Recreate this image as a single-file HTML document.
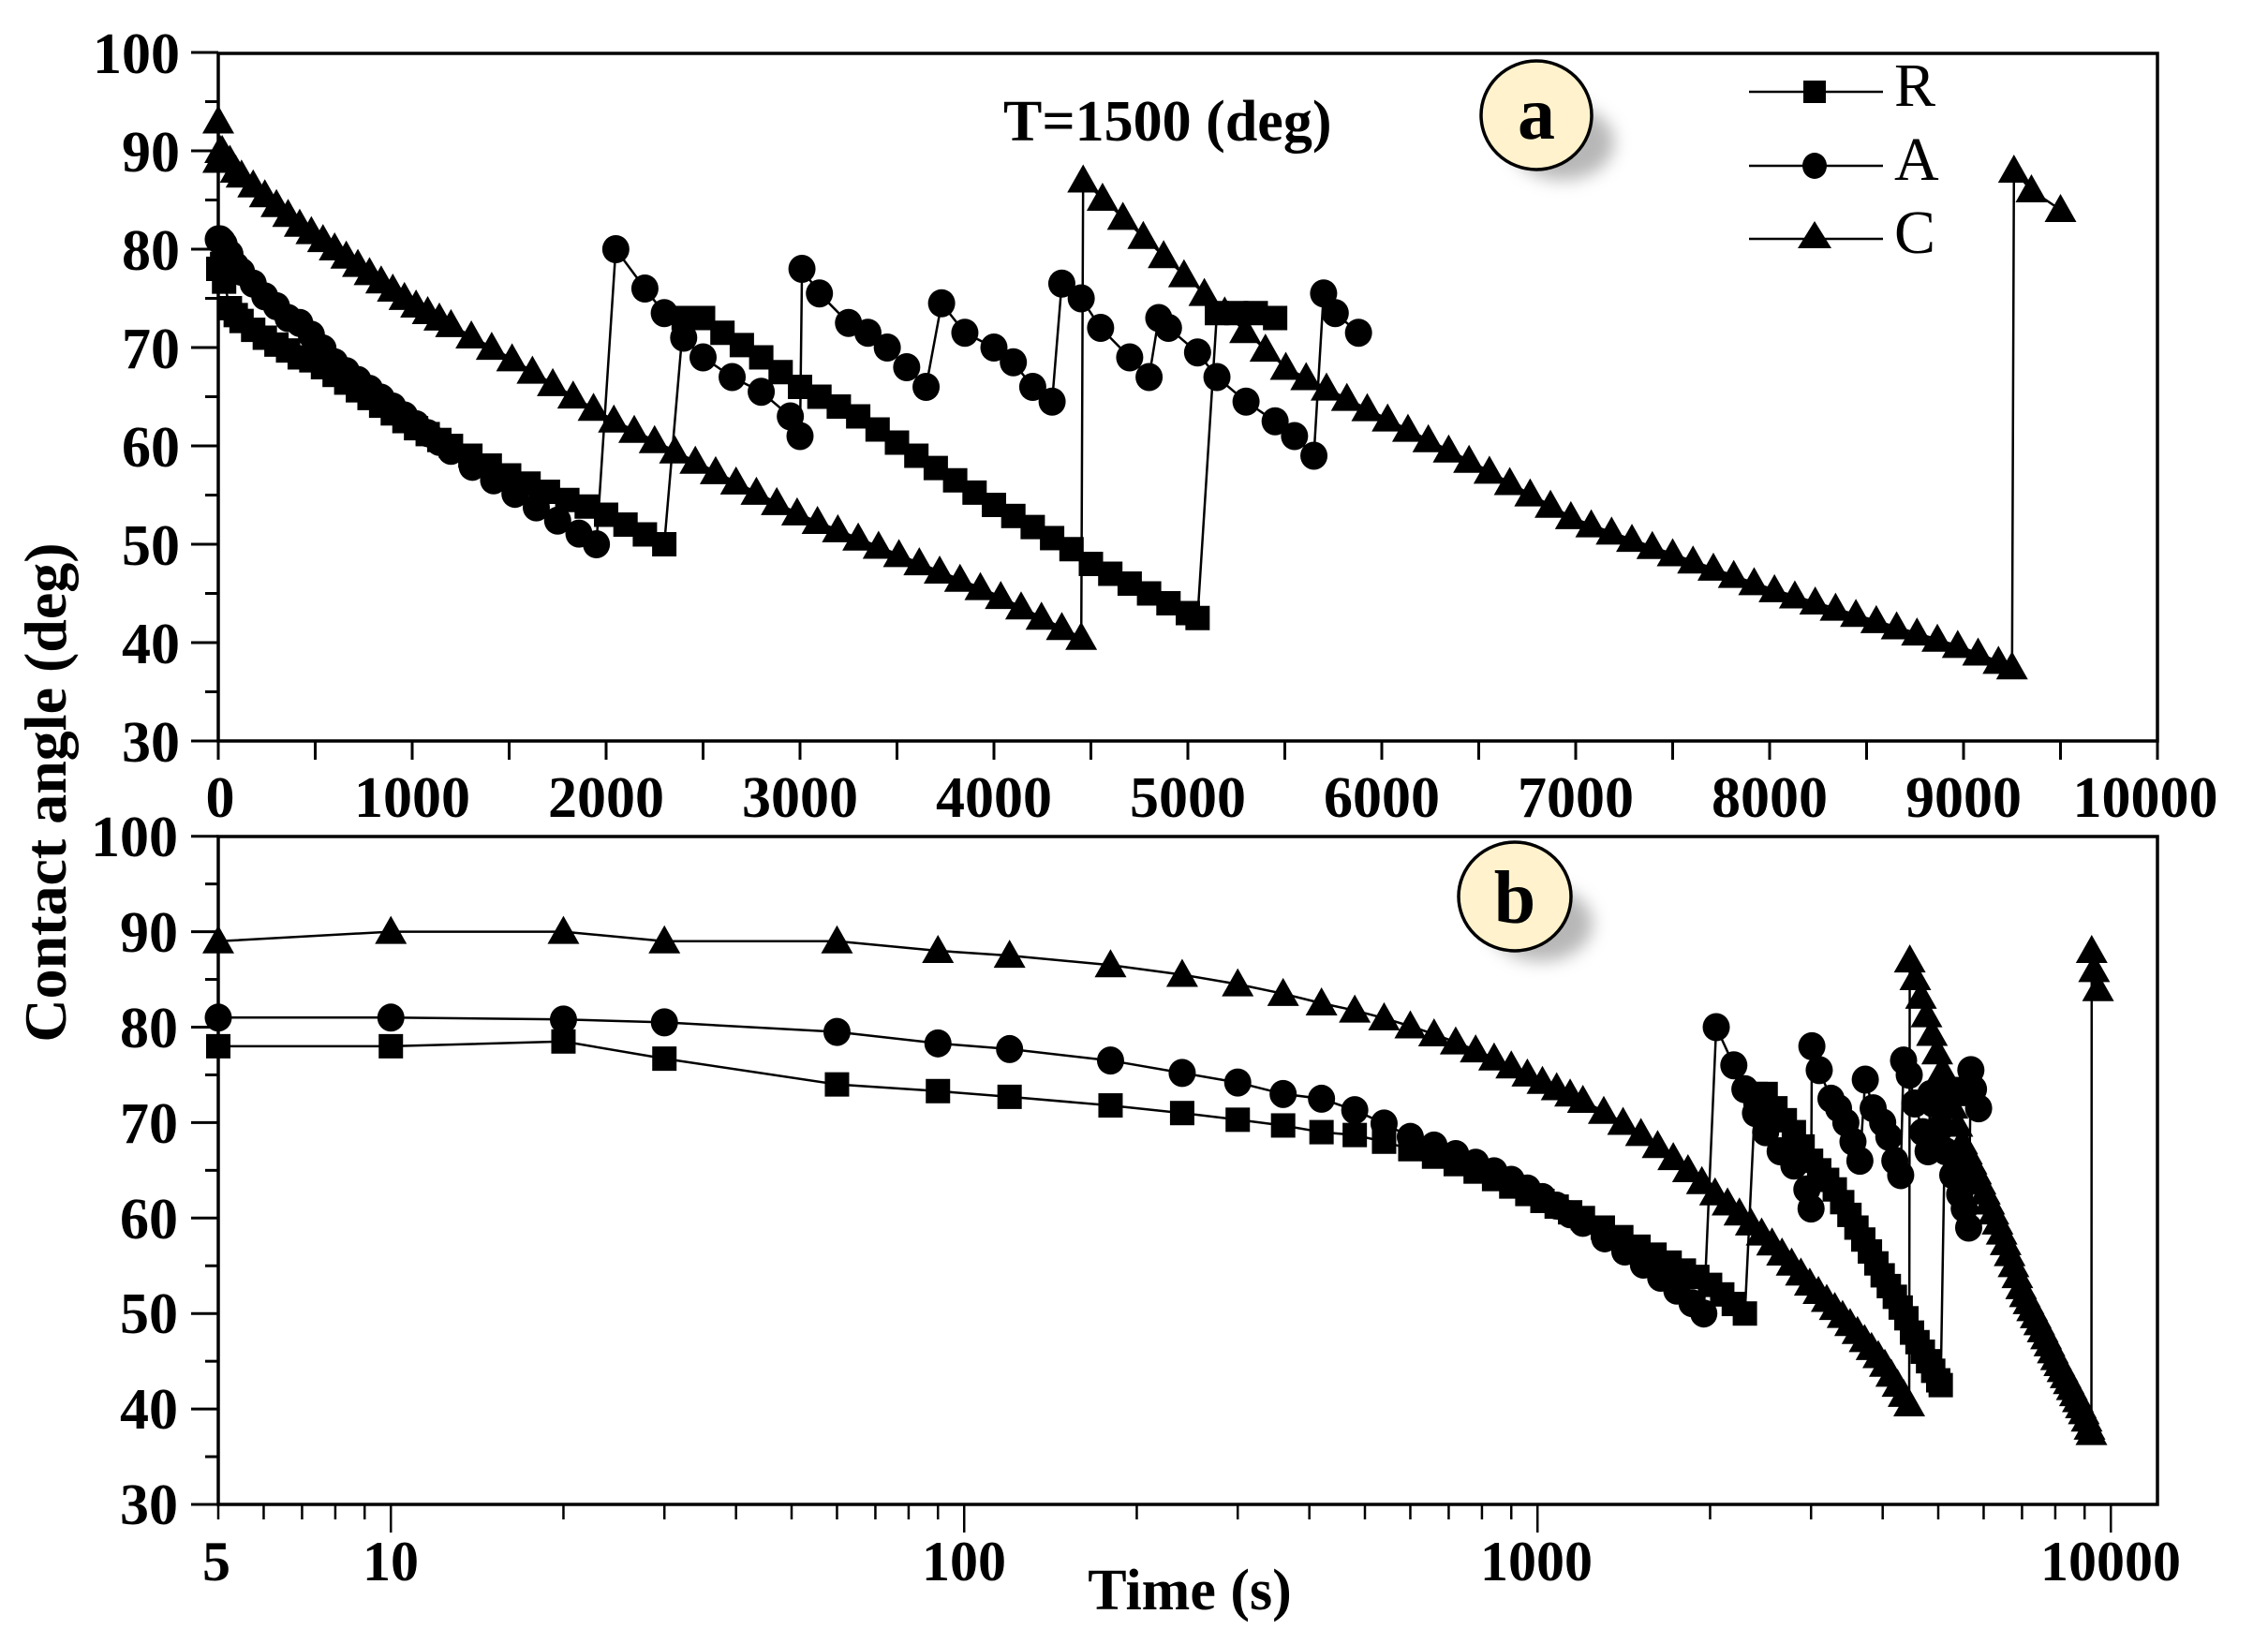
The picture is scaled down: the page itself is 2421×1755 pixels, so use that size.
<!DOCTYPE html>
<html><head><meta charset="utf-8"><style>
html,body{margin:0;padding:0;background:#fff;}
svg{display:block;}
text{font-family:"Liberation Serif",serif;fill:#000;}
</style></head><body>
<svg id="s" width="2421" height="1755" viewBox="0 0 2421 1755" xmlns="http://www.w3.org/2000/svg">
<defs><filter id="bl" x="-50%" y="-50%" width="200%" height="200%"><feGaussianBlur stdDeviation="9"/></filter></defs>
<rect width="2421" height="1755" fill="#fff"/>
<g id="axes" stroke="#000" fill="none"></g>
<g id="data"></g>
<!-- panel a tick labels -->
<g font-weight="bold" font-size="62" text-anchor="end">
<text x="192" y="78">100</text><text x="192" y="183">90</text><text x="192" y="288">80</text><text x="192" y="393">70</text>
<text x="192" y="498">60</text><text x="192" y="603">50</text><text x="192" y="708">40</text><text x="192" y="813">30</text>
</g>
<g font-weight="bold" font-size="62" text-anchor="middle">
<text x="235" y="872">0</text><text x="440" y="872">1000</text><text x="647" y="872">2000</text><text x="854" y="872">3000</text>
<text x="1061" y="872">4000</text><text x="1268" y="872">5000</text><text x="1475" y="872">6000</text><text x="1682" y="872">7000</text>
<text x="1889" y="872">8000</text><text x="2096" y="872">9000</text><text x="2290" y="872">10000</text>
</g>
<!-- panel b tick labels -->
<g font-weight="bold" font-size="62" text-anchor="end">
<text x="190" y="914">100</text><text x="190" y="1016">90</text><text x="190" y="1118">80</text><text x="190" y="1220">70</text>
<text x="190" y="1322">60</text><text x="190" y="1423">50</text><text x="190" y="1525">40</text><text x="190" y="1627">30</text>
</g>
<g font-weight="bold" font-size="60" text-anchor="middle">
<text x="231" y="1687">5</text><text x="417" y="1687">10</text><text x="1029" y="1687">100</text>
<text x="1640" y="1687">1000</text><text x="2253" y="1687">10000</text>
</g>
<text x="1270" y="1718" font-size="62" font-weight="bold" text-anchor="middle">Time (s)</text>
<text transform="translate(70,846) rotate(-90)" font-size="64" font-weight="bold" text-anchor="middle">Contact angle (deg)</text>
<text x="1071" y="150" font-size="62" font-weight="bold">T=1500 (deg)</text>
<!-- badges -->
<ellipse cx="1668" cy="152" rx="55" ry="40" fill="#999" filter="url(#bl)" opacity="0.7"/>
<ellipse cx="1640" cy="123" rx="59" ry="58" fill="#fff2cc" stroke="#000" stroke-width="3.5"/>
<text x="1640" y="148" font-size="80" font-weight="bold" text-anchor="middle">a</text>
<ellipse cx="1645" cy="986" rx="55" ry="40" fill="#999" filter="url(#bl)" opacity="0.7"/>
<ellipse cx="1617" cy="957" rx="60" ry="58" fill="#fff2cc" stroke="#000" stroke-width="3.5"/>
<text x="1617" y="985" font-size="80" font-weight="bold" text-anchor="middle">b</text>
<!-- legend -->
<g stroke="#000" stroke-width="2.5">
<line x1="1867" y1="98" x2="2010" y2="98"/><line x1="1867" y1="177" x2="2010" y2="177"/><line x1="1867" y1="255" x2="2010" y2="255"/>
</g>
<rect x="1925" y="86" width="24" height="24" fill="#000"/>
<ellipse cx="1937" cy="177" rx="13" ry="14" fill="#000"/>
<polygon points="1937,236 1955,265 1919,265" fill="#000"/>
<g font-size="66"><text x="2022" y="113">R</text><text x="2022" y="192">A</text><text x="2022" y="270">C</text></g>
</svg>
<script>
(function(){
var NS="http://www.w3.org/2000/svg";
var ax=document.getElementById('axes'), dg=document.getElementById('data');
function el(p,tag,at){var e=document.createElementNS(NS,tag);for(var k in at)e.setAttribute(k,at[k]);p.appendChild(e);return e;}
var xa=function(t){return 233+t*0.207;}, ya=function(v){return 791-(v-30)*10.5;};
var xb=function(t){return 233+612*Math.log10(Math.max(t,5)/5);}, yb=function(v){return 1606-(v-30)*10.19;};
el(ax,'rect',{x:233,y:57,width:2070,height:734,'stroke-width':3.5});
el(ax,'rect',{x:233,y:893,width:2070,height:713,'stroke-width':3.5});
var v;
for(v=30;v<=100;v+=5){var maj=v%10==0;
 el(ax,'line',{x1:maj?204:219,x2:233,y1:ya(v),y2:ya(v),'stroke-width':3});
 el(ax,'line',{x1:maj?204:219,x2:233,y1:yb(v),y2:yb(v),'stroke-width':3});}
for(var t=0;t<=10000;t+=500){el(ax,'line',{x1:xa(t),x2:xa(t),y1:791,y2:811,'stroke-width':3});}
var dec=[5,6,7,8,9,10,20,30,40,50,60,70,80,90,100,200,300,400,500,600,700,800,900,1000,2000,3000,4000,5000,6000,7000,8000,9000,10000];
dec.forEach(function(t){var m=(t==10||t==100||t==1000||t==10000);el(ax,'line',{x1:xb(t),x2:xb(t),y1:1606,y2:m?1636:1622,'stroke-width':2.5});});
function interp(cp,t){for(var i=0;i<cp.length-1;i++){if(t>=cp[i][0]&&t<=cp[i+1][0]){var f=(t-cp[i][0])/(cp[i+1][0]-cp[i][0]);return cp[i][1]+f*(cp[i+1][1]-cp[i][1]);}}return cp[cp.length-1][1];}
var early=[5,10,20,30,60,90,120,180,240,300,360,420,480,540,600,660,720,780,840,900,960,1020,1080,1140,1200];
function sample(cp,step){var t0=cp[0][0],t1=cp[cp.length-1][0],ts=[t0];
 early.forEach(function(t){if(t>t0&&t<t1)ts.push(t);});
 for(var t=1200+step;t<t1;t+=step){if(t>t0)ts.push(t);}
 ts.push(t1);return ts.map(function(t){return [t,interp(cp,t)];});}
var C=[].concat(
 sample([[5,89],[10,90],[20,90],[30,89],[60,89],[90,88],[120,87.5],[180,86.5],[240,85.5],[300,84.5],[360,83.5],[420,82.5],[500,81.5],[1000,74.5],[1500,69],[2000,63],[2500,58],[3000,53],[3500,49],[4000,45],[4450,40.5]],105),
 sample([[4460,87],[5000,77],[5500,68],[6000,63],[6500,58],[7000,52.5],[7500,49],[8000,45.5],[8500,42.5],[9000,39.5],[9250,37.5]],105),
 [[9260,88],[9350,86],[9500,84]]);
var A=[].concat(
 sample([[5,81],[10,81],[20,80.8],[30,80.5],[60,79.5],[90,78.3],[120,77.7],[180,76.5],[240,75.2],[300,74.2],[360,73],[420,72.5],[480,71.3],[600,68.5],[1000,62.5],[1300,58],[1500,55.5],[1700,53],[1950,50]],110),
 [[2050,80],[2200,76],[2300,73.5],[2400,71],[2500,69],[2650,67],[2800,65.5],[2950,63],[3000,61],[3010,78],[3100,75.5],[3250,72.5],[3350,71.5],[3450,70],[3550,68],[3650,66],[3730,74.5],[3850,71.5],[4000,70],[4100,68.5],[4200,66],[4300,64.5],[4350,76.5],[4450,75],[4550,72],[4700,69],[4800,67],[4850,73],[4900,72],[5050,69.5],[5150,67],[5300,64.5],[5450,62.5],[5550,61],[5650,59],[5700,75.5],[5760,73.5],[5880,71.5]]);
var R=[].concat(
 sample([[5,78],[10,78],[20,78.5],[30,76.7],[60,74],[90,73.3],[120,72.7],[180,71.8],[240,71],[300,70.3],[360,69.7],[420,69],[480,68.7],[540,68],[1000,62],[1200,60],[1500,57],[1800,54.5],[1950,53.5],[2100,52],[2300,50]],100),
 sample([[2400,73],[2500,73],[2600,71.5],[2800,69],[3000,66],[3300,63],[3600,59],[4000,54],[4400,49.5],[4500,48],[5050,42.5]],100),
 [[5150,73.5],[5250,73.5],[5350,73.5],[5450,73]]);
function draw(data,type,fx,fy){
 el(dg,'polyline',{points:data.map(function(p){return fx(p[0]).toFixed(1)+','+fy(p[1]).toFixed(1);}).join(' '),fill:'none',stroke:'#000','stroke-width':2.5});
 data.forEach(function(p){var x=fx(p[0]),y=fy(p[1]);
  if(type=='s')el(dg,'rect',{x:x-13,y:y-13,width:26,height:26,fill:'#000'});
  else if(type=='c')el(dg,'ellipse',{cx:x,cy:y,rx:14.5,ry:15,fill:'#000'});
  else el(dg,'polygon',{points:(x)+','+(y-17)+' '+(x+17)+','+(y+13)+' '+(x-17)+','+(y+13),fill:'#000'});});}
var Ca=[[0,93]].concat(C.map(function(p){return [p[0]<=5?0:p[0],p[1]];}));
var Aa=A.map(function(p){return [p[0]<=5?0:p[0],p[1]];}), Ra=R.map(function(p){return [p[0]<=5?0:p[0],p[1]];});
draw(Ra,'s',xa,ya);draw(Aa,'c',xa,ya);draw(Ca,'t',xa,ya);
draw(R,'s',xb,yb);draw(A,'c',xb,yb);draw(C,'t',xb,yb);
})();
</script>
</body></html>
